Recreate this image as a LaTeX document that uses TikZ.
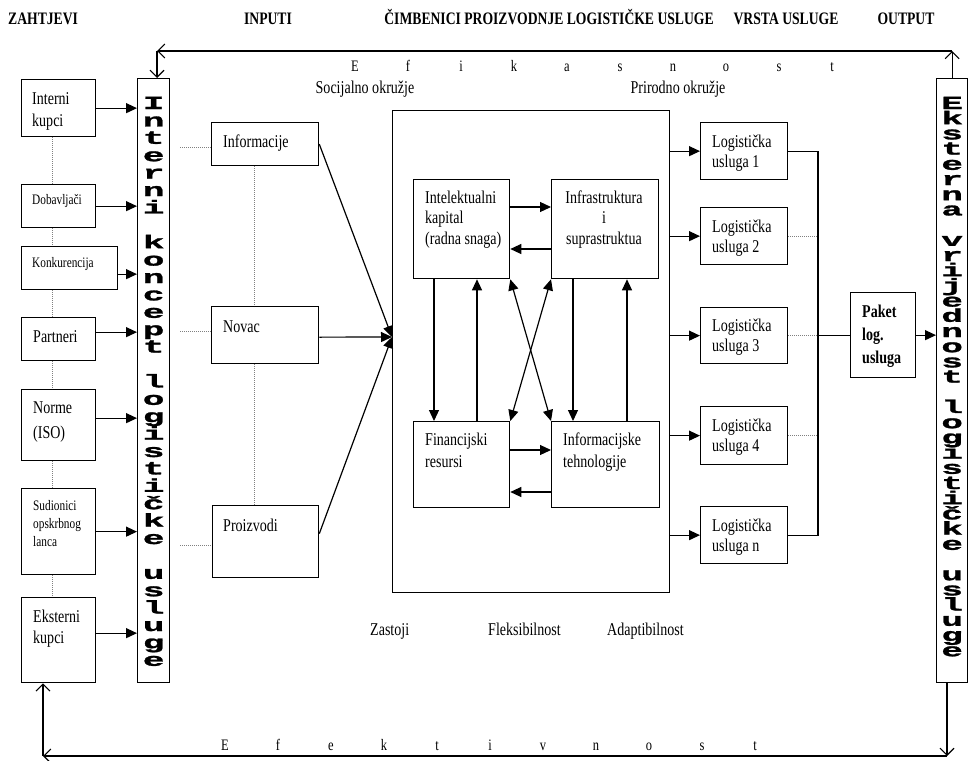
\documentclass[tikz,border=0pt]{standalone}
\usepackage{fontspec}
\setmainfont{Liberation Serif}[FakeStretch=0.78]
\newfontfamily\vfont{Liberation Mono}[FakeStretch=1.95,FakeBold=1.4]
\usetikzlibrary{arrows.meta,calc}
\newcommand\tl[2][l]{\begin{tabular}[t]{@{}#1@{}}#2\end{tabular}}
\newcommand\bx[5]{\node[box, minimum width={(#4-#2)*1pt}, minimum height={(#5-#3)*1pt}] (#1) at (#2,#3) {};}
\begin{document}
\begin{tikzpicture}[x=1pt,y=-1pt,
  box/.style={draw, line width=1.3pt, fill=white, inner sep=0pt, anchor=north west},
  T/.style={anchor=base west, inner sep=0pt, font=\fontsize{18}{21}\selectfont},
  S/.style={anchor=base west, inner sep=0pt, font=\fontsize{14.5}{18}\selectfont},
  H/.style={anchor=base, inner sep=0pt, font=\bfseries\fontsize{17.5}{20}\selectfont},
  L/.style={anchor=base, inner sep=0pt, font=\fontsize{16}{18}\selectfont},
  vlet/.style={anchor=base, inner sep=0pt, font=\vfont\bfseries\fontsize{18.5}{18}\selectfont},
  arr/.style={line width=1.2pt, -{Triangle[length=11pt,width=10pt]}},
  darr/.style={line width=1.2pt, {Triangle[length=11pt,width=10pt]}-{Triangle[length=11pt,width=10pt]}},
  oarr/.style={line width=1.1pt, -{Straight Barb[length=7pt,width=14pt,line width=1.1pt]}},
  dotl/.style={line width=1pt, gray, densely dotted},
  ln/.style={line width=1.2pt}]
\useasboundingbox (0,0) rectangle (968,760);
\fill[white] (0,0) rectangle (968,760);

% headers
\node[H, anchor=base west] (h1) at (8,25) {ZAHTJEVI};
\node[H] (h2) at (268,25) {INPUTI};
\node[H] (h3) at (549,25) {ČIMBENICI PROIZVODNJE LOGISTIČKE USLUGE};
\node[H] (h4) at (786,25) {VRSTA USLUGE};
\node[H] (h5) at (906,25) {OUTPUT};

% boxes
\bx{kup}{21}{79}{95}{136}
\bx{dob}{21}{184}{95}{227}
\bx{kon}{21}{246}{117}{289}
\bx{par}{21}{317}{95}{360}
\bx{nor}{21}{389}{95}{460}
\bx{sud}{21}{488}{95}{574}
\bx{eks}{21}{597}{95}{682}
\bx{ivk}{137}{78}{169}{682}
\bx{evb}{936}{78}{967}{682}
\bx{inf}{211}{122}{318}{165}
\bx{nov}{211}{306}{318}{363}
\bx{pro}{212}{505}{318}{577}
\bx{cb}{392}{110}{669}{592}
\bx{ik}{413}{179}{509}{278}
\bx{ifs}{551}{179}{658}{278}
\bx{fin}{413}{421}{509}{507}
\bx{it}{551}{421}{659}{507}
\bx{lu1}{700}{122}{787}{179}
\bx{lu2}{700}{207}{787}{264}
\bx{lu3}{700}{307}{787}{363}
\bx{lu4}{700}{406}{787}{464}
\bx{lun}{700}{506}{787}{563}
\bx{pak}{850}{292}{915}{377}

% dotted links between requirement boxes
\foreach \a/\b in {kup/dob,dob/kon,kon/par,par/nor,nor/sud,sud/eks}
  \draw[dotl] ($(\a.south west)+(31,0)$) -- ($(\b.north west)+(31,0)$);
\draw[dotl] ($(inf.south west)+(43,0)$) -- ($(nov.north west)+(43,0)$);
\draw[dotl] ($(nov.south west)+(43,0)$) -- ($(pro.north west)+(42,0)$);
\coordinate (gx) at (180,0);
\coordinate (ia) at ($(inf.west)+(0,3)$);
\coordinate (na) at ($(nov.west)+(0,-4)$);
\coordinate (pa) at ($(pro.west)+(0,4)$);
\draw[dotl] (ia -| gx) -- (ia);
\draw[dotl] (na -| gx) -- (na);
\draw[dotl] (pa -| gx) -- (pa);

% requirement arrows
\draw[arr] (kup.east) -- (kup.east -| ivk.west);
\draw[arr] (dob.east) -- (dob.east -| ivk.west);
\coordinate (a3) at ($(kon.east)+(0,6)$);
\draw[arr] (a3) -- (a3 -| ivk.west);
\coordinate (a4) at ($(par.east)+(0,-7)$);
\draw[arr] (a4) -- (a4 -| ivk.west);
\coordinate (a5) at ($(nor.east)+(0,-7)$);
\draw[arr] (a5) -- (a5 -| ivk.west);
\draw[arr] (sud.east) -- (sud.east -| ivk.west);
\coordinate (a7) at ($(eks.east)+(0,-7)$);
\draw[arr] (a7) -- (a7 -| ivk.west);

% inputs to centre
\coordinate (conv) at ($(cb.north west)+(0,227)$);
\draw[arr] (inf.east) -- (conv);
\draw[arr] ($(nov.east)+(0,2)$) -- (conv);
\draw[arr] ($(pro.east)+(0,-8)$) -- (conv);

% inner arrows
\draw[arr] ($(ik.north east)+(0,28)$) -- ($(ifs.north west)+(0,28)$);
\draw[arr] ($(ifs.north west)+(0,70)$) -- ($(ik.north east)+(0,70)$);
\draw[arr] ($(fin.north east)+(0,29)$) -- ($(it.north west)+(0,29)$);
\draw[arr] ($(it.north west)+(0,71)$) -- ($(fin.north east)+(0,71)$);
\draw[arr] ($(ik.south west)+(21,0)$) -- ($(fin.north west)+(21,0)$);
\draw[arr] ($(fin.north west)+(64,0)$) -- ($(ik.south west)+(64,0)$);
\draw[arr] ($(ifs.south west)+(22,0)$) -- ($(it.north west)+(22,0)$);
\draw[arr] ($(it.north west)+(76,0)$) -- ($(ifs.south west)+(76,0)$);
\draw[darr] (ik.south east) -- (it.north west);
\draw[darr] (ifs.south west) -- (fin.north east);

% centre to services
\foreach \u in {lu1,lu2,lu3,lu4,lun}
  \draw[arr] (\u.west -| cb.east) -- (\u.west);
\coordinate (cx) at (818,0);
\draw[ln] (lu1.east) -- (lu1.east -| cx) -- (lun.east -| cx) -- (lun.east);
\draw[dotl] (lu2.east) -- (lu2.east -| cx);
\draw[dotl] (lu3.east) -- (lu3.east -| cx);
\draw[dotl] (lu4.east) -- (lu4.east -| cx);
\draw[ln] (pak.west -| cx) -- (pak.west);
\draw[arr] (pak.east) -- (pak.east -| evb.west);

% loops
\coordinate (tl) at (157,51);
\coordinate (tr) at (951,51);
\draw[oarr] (evb.north) -- (evb.north |- tr);
\draw[oarr] (evb.north |- tr) -- (tl);
\draw[oarr] (tl) -- (tl |- ivk.north);
\coordinate (br) at (947,756);
\coordinate (bl) at (43,756);
\draw[oarr] (br |- evb.south) -- (br);
\draw[oarr] (br) -- (bl);
\draw[oarr] (bl) -- (bl |- eks.south);

% box texts
\node[T, font=\fontsize{18}{22}\selectfont] (t-kup) at (32,104) {\tl{Interni\\kupci}};
\node[S] (t-dob) at (32,204) {Dobavljači};
\node[S] (t-kon) at (32,267) {Konkurencija};
\node[T] (t-par) at (33,342) {Partneri};
\node[T, font=\fontsize{18}{25}\selectfont] (t-nor) at (33,413) {\tl{Norme\\(ISO)}};
\node[S] (t-sud) at (33,510) {\tl{Sudionici\\opskrbnog\\lanca}};
\node[T] (t-eks) at (33,622) {\tl{Eksterni\\kupci}};
\node[T] (t-inf) at (223,147) {Informacije};
\node[T] (t-nov) at (223,332) {Novac};
\node[T] (t-pro) at (223,531) {Proizvodi};
\node[T, font=\fontsize{18}{20.5}\selectfont] (t-ik) at (425,203) {\tl{Intelektualni\\kapital\\(radna snaga)}};
\node[T, anchor=base, font=\fontsize{18}{20.5}\selectfont] (t-ifs) at (604,203) {\tl[c]{Infrastruktura\\i\\suprastruktua}};
\node[T, font=\fontsize{18}{22}\selectfont] (t-fin) at (425,445) {\tl{Financijski\\resursi}};
\node[T, font=\fontsize{18}{22}\selectfont] (t-it) at (563,445) {\tl{Informacijske\\tehnologije}};
\node[T, font=\fontsize{18}{20}\selectfont] (t-lu1) at (712,147) {\tl{Logistička\\usluga 1}};
\node[T, font=\fontsize{18}{20}\selectfont] (t-lu2) at (712,232) {\tl{Logistička\\usluga 2}};
\node[T, font=\fontsize{18}{20}\selectfont] (t-lu3) at (712,331) {\tl{Logistička\\usluga 3}};
\node[T, font=\fontsize{18}{20}\selectfont] (t-lu4) at (712,431) {\tl{Logistička\\usluga 4}};
\node[T, font=\fontsize{18}{20}\selectfont] (t-lun) at (712,531) {\tl{Logistička\\usluga n}};
\node[T, font=\bfseries\fontsize{18}{23}\selectfont] (t-pak) at (862,317) {\tl{Paket\\log.\\usluga}};

% free labels
\node[T, anchor=base] (soc) at (365,93) {Socijalno okružje};
\node[T, anchor=base] (pri) at (678,93) {Prirodno okružje};
\node[T] (zas) at (370,635) {Zastoji};
\node[T] (fle) at (488,635) {Fleksibilnost};
\node[T] (ada) at (607,635) {Adaptibilnost};

\foreach \c [count=\i from 0] in {E,f,i,k,a,s,n,o,s,t}
  \node[L] (ef\i) at (355+53*\i,71) {\c};
\foreach \c [count=\i from 0] in {E,f,e,k,t,i,v,n,o,s,t}
  \node[L] (et\i) at (225+53*\i,750) {\c};

% vertical stacked texts
\foreach \c [count=\i from 0] in {I,n,t,e,r,n,i,{},k,o,n,c,e,p,t,{},l,o,g,i,s,t,i,č,k,e,{},u,s,l,u,g,e}
  \node[vlet] (iv\i) at ($(ivk.north)+(0,31+\i*17.4)$) {\c};
\foreach \c [count=\i from 0] in {E,k,s,t,e,r,n,a,{},v,r,i,j,e,d,n,o,s,t,{},l,o,g,i,s,t,i,č,k,e,{},u,s,l,u,g,e}
  \node[vlet] (ev\i) at ($(evb.north)+(0,31+\i*15.2)$) {\c};
\end{tikzpicture}
\end{document}
